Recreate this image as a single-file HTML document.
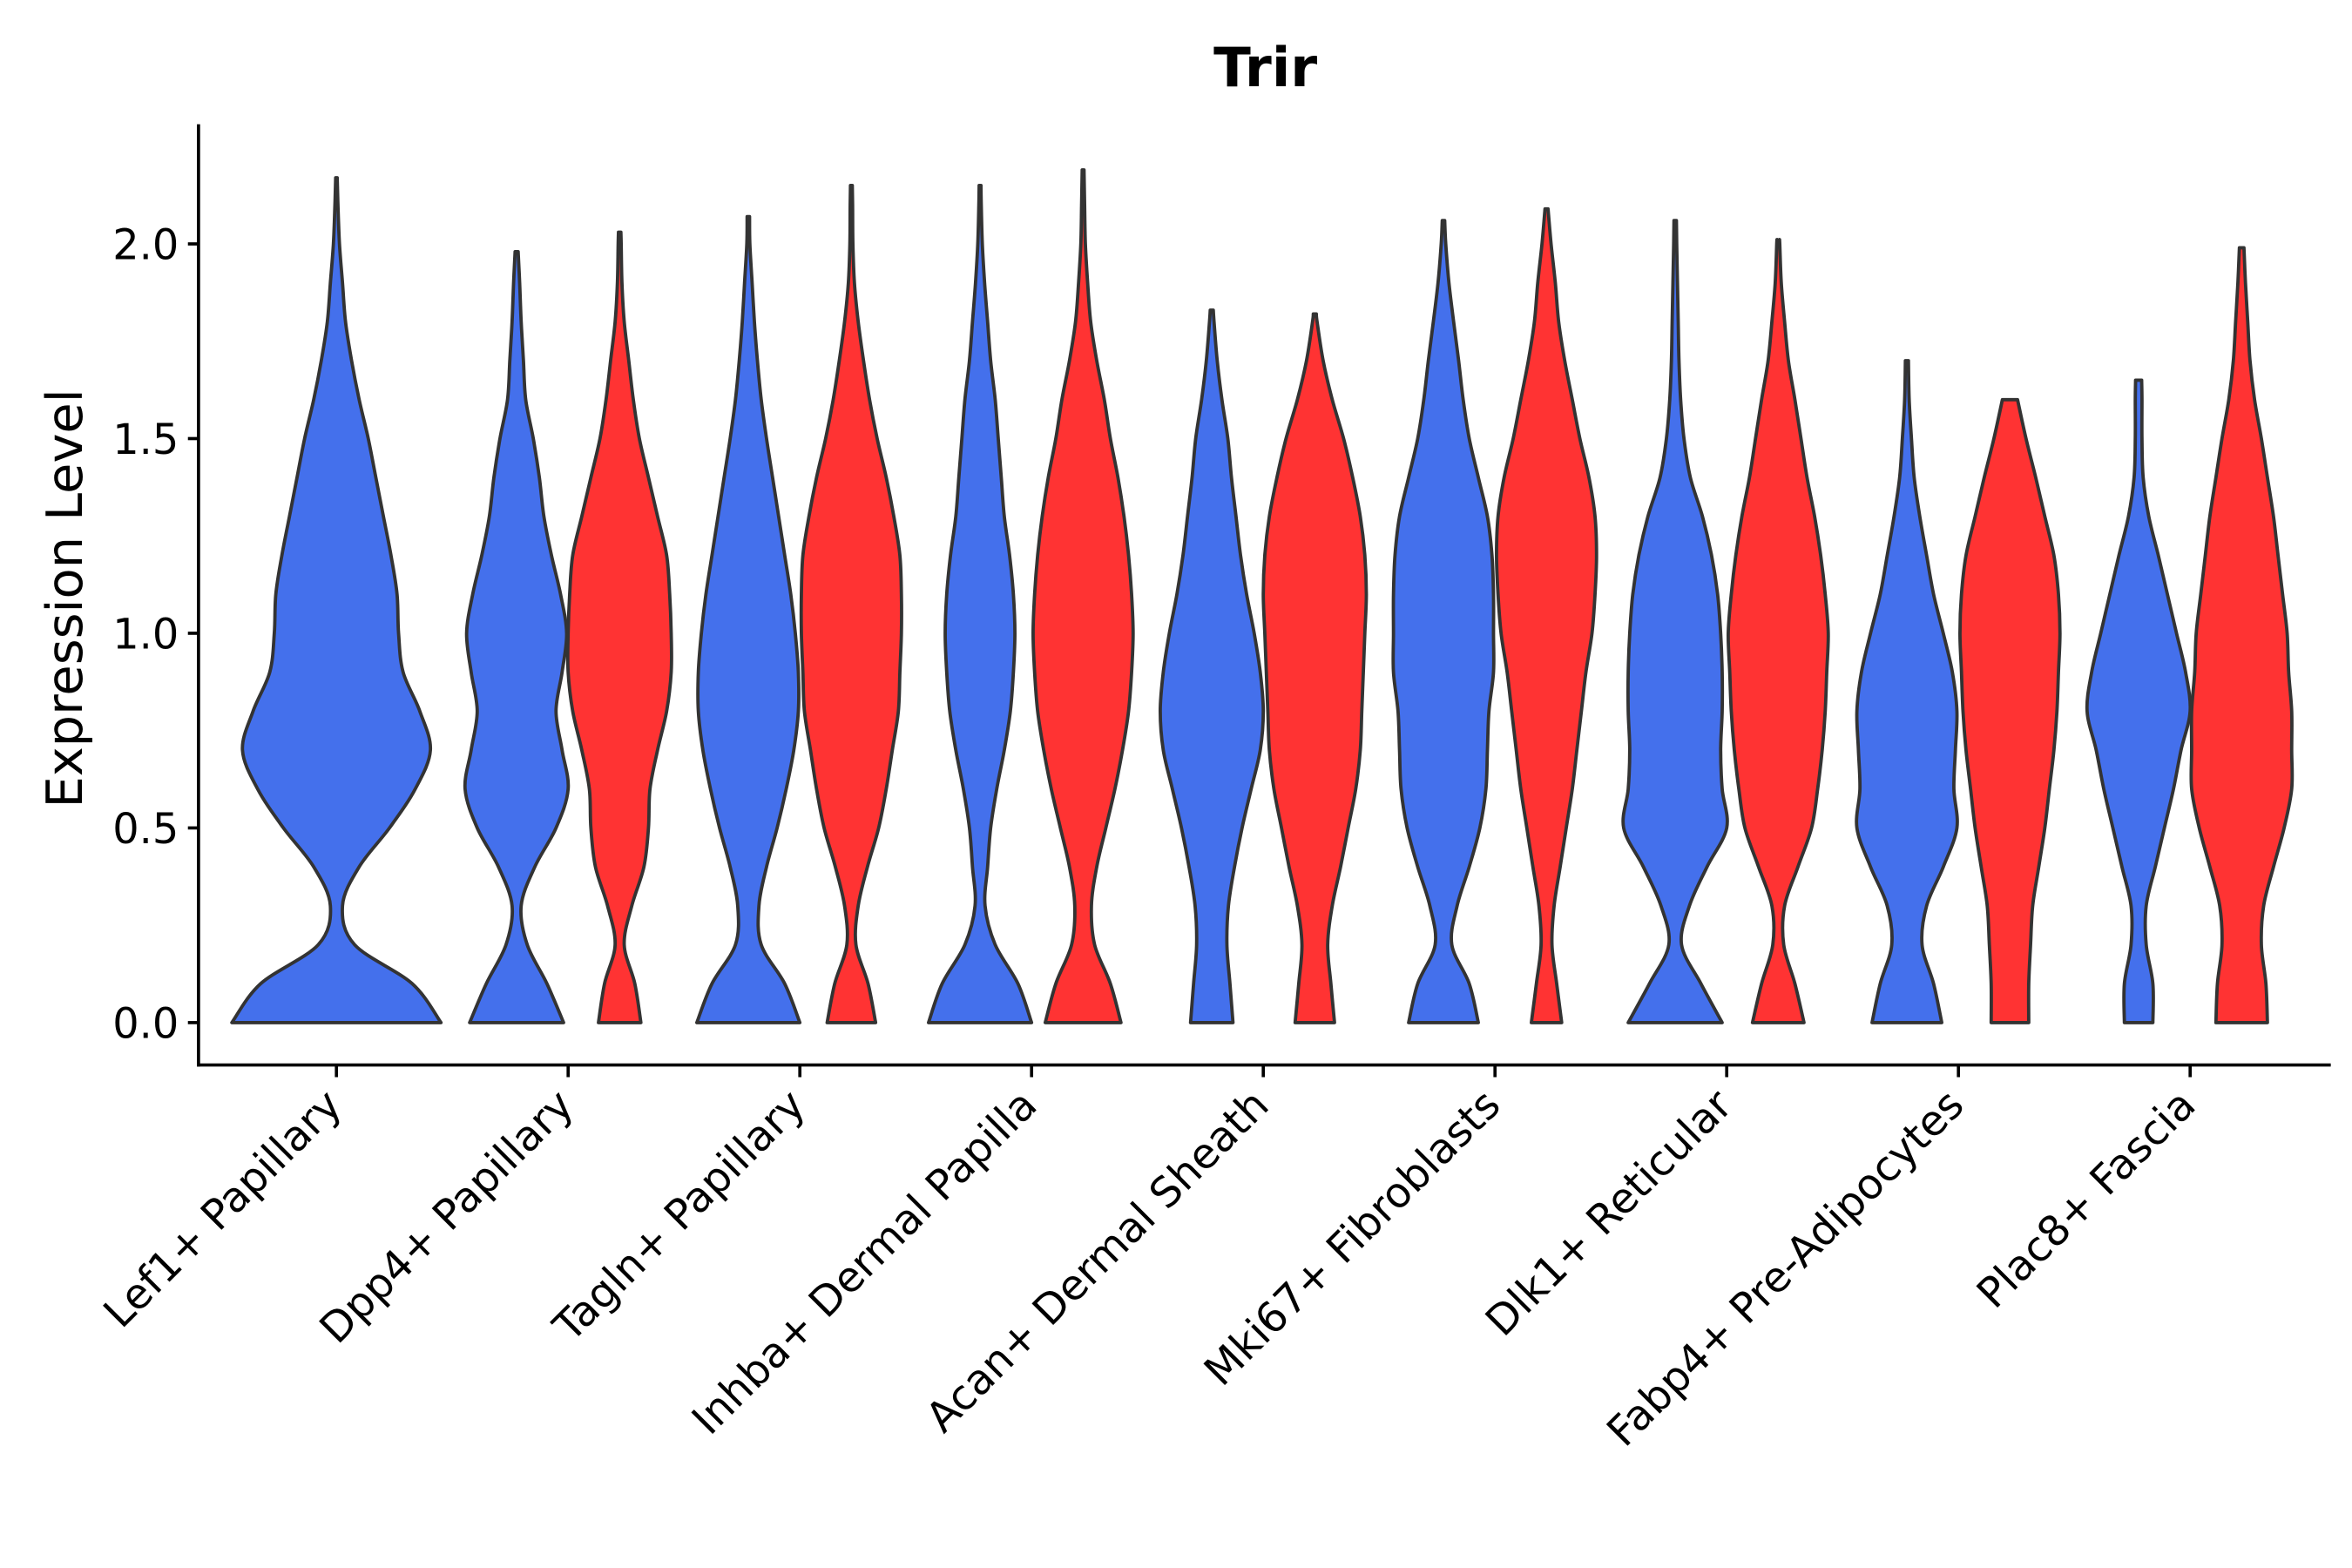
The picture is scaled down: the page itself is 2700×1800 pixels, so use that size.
<!DOCTYPE html>
<html><head><meta charset="utf-8"><title>Trir violin plot</title>
<style>html,body{margin:0;padding:0;background:#fff;}svg{display:block;}</style></head>
<body>
<svg id="chart" xmlns="http://www.w3.org/2000/svg" width="2700" height="1800" viewBox="0 0 1552 1035" preserveAspectRatio="none" font-family="'DejaVu Sans','Liberation Sans',sans-serif">
<rect width="1552" height="1035" fill="#fff"/>
<text x="835" y="57" text-anchor="middle" font-size="36" font-weight="bold">Trir</text>
<text transform="translate(54,395) rotate(-90)" text-anchor="middle" font-size="33">Expression Level</text>
<g id="violins"></g>
<g id="axes"></g>
</svg>
<script>
const categories = ["Lef1+ Papillary","Dpp4+ Papillary","Tagln+ Papillary","Inhba+ Dermal Papilla","Acan+ Dermal Sheath","Mki67+ Fibroblasts","Dlk1+ Reticular","Fabp4+ Pre-Adipocytes","Plac8+ Fascia"];
const yTicks = [0, 0.5, 1.0, 1.5, 2.0];
const yTickLabels = ["0.0","0.5","1.0","1.5","2.0"];
// max expression per violin (blue group, red group)
const blueMax = [2.17,1.98,2.07,2.15,1.83,2.06,2.06,1.70,1.65];
const redMax  = [null,2.03,2.15,2.19,1.82,2.09,2.01,1.60,1.99];
// density half-widths sampled at 0,0.1,0.2,... with last entry at the max
const blueDensity = [
 [69,50,12,4,15,35,52,62,55,44,41,40,36,31,26,21,15,10,6,4,2,1,0.5],
 [31,20,7,3,12,26,34,30,26,30,33,29,23,18,15,11,6,4.5,3,2,1],
 [34,24,8.5,7,12,19,25,30,33,33,31,28,24,20,16,12,8.5,6,4,2.5,1,0.8],
 [34,25,10,3.3,5,7,11,16,20,22,23,22,19.5,16,14,12,10,7,5,3,1.5,0.8,0.6],
 [14,12,10,11,15,20,26,32,34,32,28,23,19,16,13,10.6,6.7,3.6,1.5,1],
 [23,17,5.5,9,17,24,28,29,30,33,33,33,32,29,23,17,13,10,6.7,3.6,1.5,0.8],
 [31,17,4.2,9.4,21,34,31,30,31,31,30,28,24,18,10,5.8,3.6,2.5,2,1.5,1,0.8],
 [23,17.6,10,13,24,33,31,32,33,30,24,17.6,13,8.5,4.8,3,1.5,1],
 [9.4,9.4,5,5,11,17,23,28,34,31,25,19,13,6.7,3,2.2,2.2,2]
];
const redDensity = [
 null,
 [14,10,3,8,16,19,20,25,31,34,34,33,31,25,19,13,9,6,3,1.5,1,0.8],
 [16,11,3,4.5,10.6,18,23,27,31,32,33,33,32,28,23,17,12,8,4.5,2,1,0.8,0.6],
 [25,18,7.6,5.5,9,15,21,26,30,32,33,32,30,27,23,18,14,9,5,3,1.5,1,0.6],
 [13,10.6,8.5,11.5,17,22,27,30,31,32,33,34,33,30,25,19,11.5,5.5,1.5,1],
 [10,6.7,3.6,5,9,13,17,20,23,26,30,32,33,32,28,22,17,12,8,5.8,3,1],
 [17,11,3.6,4.2,13,22,26,29,31,32,33,31,28,24,19,15,11,6.7,4.2,2,1,0.8],
 [12.4,12.4,13.6,15,19,23,26,29,31,32,33,32,29,23,17,10.6,5],
 [17,16,13,14.5,21,28,33,33,33,31,30,27,24,21,17,13,8.5,5.5,4,2.5,1.5]
];

const NS = "http://www.w3.org/2000/svg";
const plotL = 131, plotR = 1538, axisY = 703, axisTop = 82;
const catX0 = 222, catStep = 152.9, dodge = 34;
function xScale(i){ return catX0 + i*catStep; }
function yScale(v){ return 675 - 257*v; }
function wScale(d){ return d; }

function mk(tag, attrs){ const e = document.createElementNS(NS, tag); for (const k in attrs) e.setAttribute(k, attrs[k]); return e; }

function crPath(pts){
  let d = "";
  for (let i=0;i<pts.length-1;i++){
    const p0 = pts[Math.max(0,i-1)], p1 = pts[i], p2 = pts[i+1], p3 = pts[Math.min(pts.length-1,i+2)];
    const c1 = [p1[0]+(p2[0]-p0[0])/6, p1[1]+(p2[1]-p0[1])/6];
    const c2 = [p2[0]-(p3[0]-p1[0])/6, p2[1]-(p3[1]-p1[1])/6];
    d += ` C${c1[0].toFixed(2)},${c1[1].toFixed(2)} ${c2[0].toFixed(2)},${c2[1].toFixed(2)} ${p2[0].toFixed(2)},${p2[1].toFixed(2)}`;
  }
  return d;
}

function violinPath(cx, dens, maxV){
  const ys = dens.map((_,i)=> i===dens.length-1 ? maxV : i*0.1);
  const left = [], right = [];
  for (let i=dens.length-1;i>=0;i--) left.push([cx - wScale(dens[i]), yScale(ys[i])]);
  for (let i=0;i<dens.length;i++) right.push([cx + wScale(dens[i]), yScale(ys[i])]);
  let d = `M${left[0][0].toFixed(2)},${left[0][1].toFixed(2)}` + crPath(left);
  d += ` L${right[0][0].toFixed(2)},${right[0][1].toFixed(2)}` + crPath(right) + " Z";
  return d;
}

const vg = document.getElementById("violins");
categories.forEach((cat, i) => {
  const c = xScale(i);
  const hasRed = redDensity[i] !== null;
  const bx = hasRed ? c - dodge : c;
  const pb = mk("path", {d: violinPath(bx, blueDensity[i], blueMax[i]), fill:"#4470ec", stroke:"#333", "stroke-width":"2.2", "stroke-linejoin":"round"});
  
  
  vg.appendChild(pb);
  if (hasRed){
    const pr = mk("path", {d: violinPath(c + dodge, redDensity[i], redMax[i]), fill:"#ff3333", stroke:"#333", "stroke-width":"2.2", "stroke-linejoin":"round"});
    
    
    vg.appendChild(pr);
  }
});

const ag = document.getElementById("axes");
const ya = mk("line", {x1:plotL, y1:axisTop, x2:plotL, y2:axisY+1, stroke:"#000", "stroke-width":"2.1"});


ag.appendChild(ya);
const xa = mk("line", {x1:plotL-1, y1:axisY, x2:plotR, y2:axisY, stroke:"#000", "stroke-width":"2.1"});


ag.appendChild(xa);

yTicks.forEach((v, i) => {
  const y = yScale(v);
  const t = mk("line", {x1:plotL-7, y1:y, x2:plotL, y2:y, stroke:"#000", "stroke-width":"2.1"});
  
  
  ag.appendChild(t);
  const l = mk("text", {x:plotL-13, y:y+10, "text-anchor":"end", "font-size":"27.5", fill:"#000"});
  l.textContent = yTickLabels[i];
  
  
  ag.appendChild(l);
});

categories.forEach((cat, i) => {
  const x = xScale(i);
  const t = mk("line", {x1:x, y1:axisY, x2:x, y2:axisY+8, stroke:"#000", "stroke-width":"2.1"});
  
  
  ag.appendChild(t);
  const l = mk("text", {transform:`translate(${(x+5).toFixed(1)},731) rotate(-45)`, "text-anchor":"end", "font-size":"27.5", fill:"#000"});
  l.textContent = cat;
  
  
  ag.appendChild(l);
});
</script>
</body></html>
